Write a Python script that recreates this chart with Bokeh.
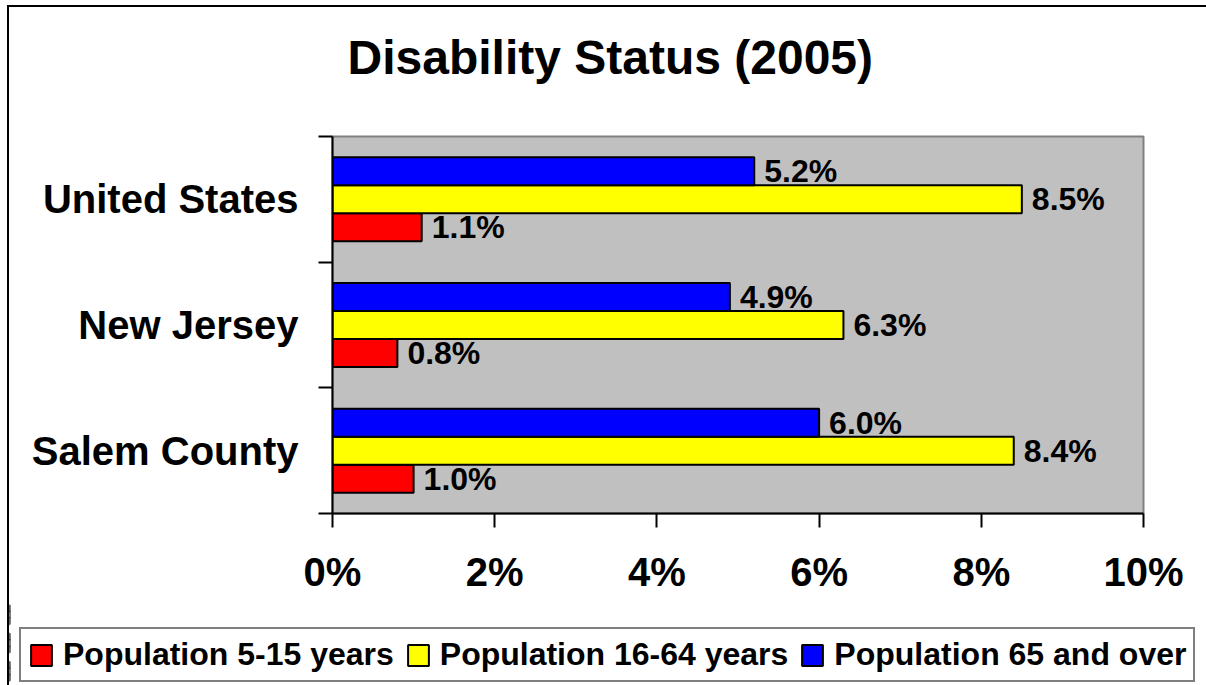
from bokeh.plotting import figure
from bokeh.layouts import column
from bokeh.models import (ColumnDataSource, FixedTicker, PrintfTickFormatter,
                          Legend, LegendItem, Title, Range1d)
from bokeh.transform import dodge
from bokeh.core.properties import value
from bokeh.embed import file_html
from bokeh.resources import INLINE

# ---- data ----
categories = ["Salem County", "New Jersey", "United States"]
pop_5_15 = [1.0, 0.8, 1.1]
pop_16_64 = [8.4, 6.3, 8.5]
pop_65_over = [6.0, 4.9, 5.2]
series_names = ["Population 5-15 years", "Population 16-64 years", "Population 65 and over"]
series_colors = ["#FF0000", "#FFFF00", "#0000FF"]
x_ticks = [0, 2, 4, 6, 8, 10]
title_text = "Disability Status (2005)"

FONT = value("Liberation Sans")
BAR_H = 0.223
W = 1197

src = ColumnDataSource(dict(
    y=list(range(len(categories))),
    a=pop_5_15, b=pop_16_64, c=pop_65_over,
    la=[f"{v:.1f}%" for v in pop_5_15],
    lb=[f"{v:.1f}%" for v in pop_16_64],
    lc=[f"{v:.1f}%" for v in pop_65_over],
))

p = figure(width=W, height=593, output_backend="svg", toolbar_location=None,
           x_range=Range1d(0, 10), y_range=Range1d(-0.5, len(categories) - 0.5),
           min_border_left=323, min_border_top=129, min_border_right=63,
           min_border_bottom=87)
p.background_fill_color = "#C0C0C0"
p.border_fill_color = "white"
p.outline_line_color = "#808080"
p.outline_line_width = 2
p.grid.visible = False

offsets = [-BAR_H, 0.0, BAR_H]
cols = ["a", "b", "c"]
labcols = ["la", "lb", "lc"]
for off, col, lc, color in zip(offsets, cols, labcols, series_colors):
    p.hbar(y=dodge("y", off, range=p.y_range), right=col, left=0, height=BAR_H,
           source=src, fill_color=color, line_color="black", line_width=2)
    p.text(x=col, y=dodge("y", off, range=p.y_range), text=lc, source=src,
           x_offset=10, text_baseline="middle", text_align="left",
           text_font=FONT, text_font_style="bold", text_font_size="32px",
           text_color="black")

# x axis
xa = p.xaxis[0]
xa.ticker = FixedTicker(ticks=x_ticks)
xa.formatter = PrintfTickFormatter(format="%d%%")
xa.major_tick_out = 14
xa.major_tick_in = 0
xa.minor_tick_out = 0
xa.minor_tick_in = 0
xa.axis_line_width = 2
xa.major_tick_line_width = 2
xa.axis_line_color = "black"
xa.major_label_text_font = "Liberation Sans"
xa.major_label_text_font_style = "bold"
xa.major_label_text_font_size = "40px"
xa.major_label_text_color = "black"
xa.major_label_standoff = 22

# y axis
ya = p.yaxis[0]
ya.ticker = FixedTicker(ticks=list(range(len(categories))),
                        minor_ticks=[i - 0.5 for i in range(len(categories) + 1)])
ya.major_label_overrides = {i: c for i, c in enumerate(categories)}
ya.major_tick_out = 0
ya.major_tick_in = 0
ya.minor_tick_out = 14
ya.minor_tick_in = 0
ya.minor_tick_line_width = 2
ya.minor_tick_line_color = "black"
ya.axis_line_width = 2
ya.axis_line_color = "black"
ya.major_label_text_font = "Liberation Sans"
ya.major_label_text_font_style = "bold"
ya.major_label_text_font_size = "40px"
ya.major_label_text_color = "black"
ya.major_label_standoff = 20

# title (spacer first, nearest the frame, then the real title)
spacer = Title(text=" ", text_font_size="32px", text_color="white")
p.add_layout(spacer, "above")
title = Title(text=title_text, align="left", offset=15,
              text_font="Liberation Sans", text_font_style="bold",
              text_font_size="48px", text_color="black")
p.add_layout(title, "above")

# legend strip (its own figure; the bars there lie outside the visible range)
pl = figure(width=W, height=85, output_backend="svg", toolbar_location=None,
            x_range=Range1d(100, 101), y_range=Range1d(-0.5, len(categories) - 0.5),
            x_axis_location=None, y_axis_location=None,
            min_border=0, min_border_left=0, min_border_right=0,
            min_border_top=0, min_border_bottom=0)
pl.outline_line_color = None
pl.background_fill_color = "white"
pl.border_fill_color = "white"
pl.grid.visible = False
leg_renderers = []
for off, col, color in zip(offsets, cols, series_colors):
    r = pl.hbar(y=dodge("y", off, range=pl.y_range), right=col, left=0, height=BAR_H,
                source=src, fill_color=color, line_color="black", line_width=2)
    leg_renderers.append(r)

items = [LegendItem(label=n, renderers=[r]) for n, r in zip(series_names, leg_renderers)]
legend = Legend(items=items, orientation="horizontal", location=(10, 3),
                glyph_width=26, glyph_height=26, label_standoff=9, spacing=11,
                padding=7, margin=0,
                label_text_font="Liberation Sans", label_text_font_style="bold",
                label_text_font_size="32px", label_text_color="black",
                border_line_color="black", border_line_width=2,
                background_fill_color="white", background_fill_alpha=1.0)
pl.add_layout(legend, "center")

for fig in (p, pl):
    if "frame_align" in fig.properties():
        fig.frame_align = False

layout = column(p, column(pl, spacing=0), spacing=0,
                styles={"margin-left": "7px", "margin-top": "5px",
                        "border-left": "2px solid black",
                        "border-top": "2px solid black"})

open("out.html", "w").write(file_html(layout, INLINE))
